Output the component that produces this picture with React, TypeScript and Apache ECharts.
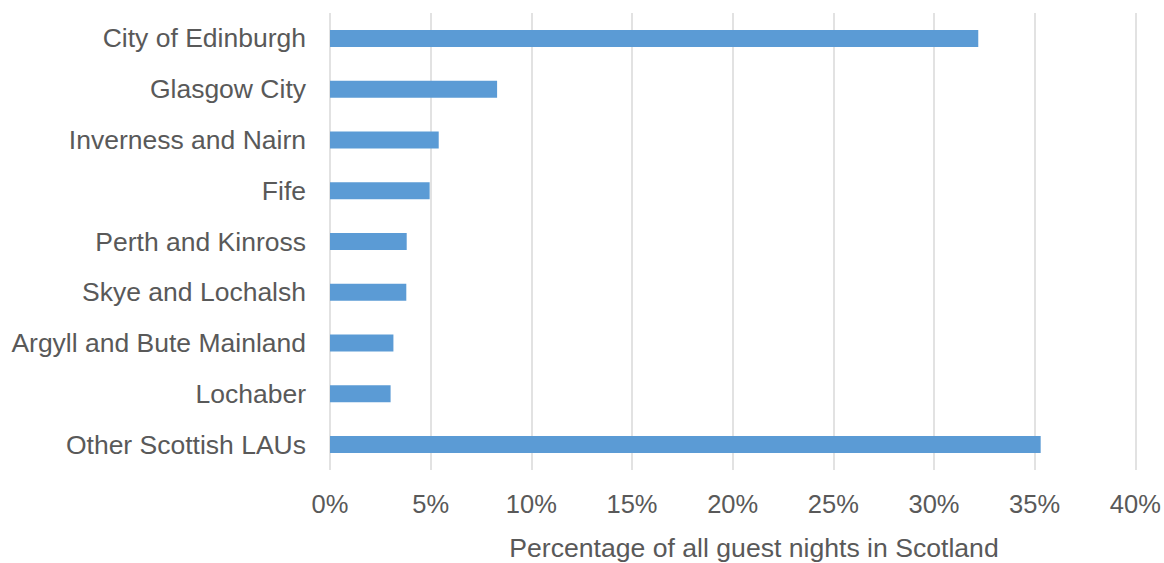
import React, { useEffect, useRef } from "react";
import * as echarts from "echarts";

const categories = [
  "City of Edinburgh",
  "Glasgow City",
  "Inverness and Nairn",
  "Fife",
  "Perth and Kinross",
  "Skye and Lochalsh",
  "Argyll and Bute Mainland",
  "Lochaber",
  "Other Scottish LAUs",
];
const values = [32.2, 8.3, 5.4, 4.95, 3.81, 3.79, 3.15, 3.01, 35.3];
const axisTitle = "Percentage of all guest nights in Scotland";

export default function App() {
  const ref = useRef<HTMLDivElement>(null);
  useEffect(() => {
    if (!ref.current) return;
    const chart = echarts.init(ref.current, null, { renderer: "svg" });
    const font = "'Liberation Sans', Arial, sans-serif";
    chart.setOption({
      animation: false,
      grid: { left: 330, right: 28.7, top: 13, bottom: 93, containLabel: false },
      xAxis: {
        type: "value",
        min: 0,
        max: 40,
        interval: 5,
        axisLine: { show: false },
        axisTick: { show: false },
        splitLine: { show: true, lineStyle: { color: "#d9d9d9", width: 1.5 } },
        axisLabel: {
          formatter: (v: number) => v + "%",
          color: "#595959",
          fontSize: 25.5,
          fontFamily: font,
          margin: 21,
        },
      },
      yAxis: {
        type: "category",
        data: categories,
        inverse: true,
        axisLine: { show: false },
        axisTick: { show: false },
        axisLabel: {
          color: "#595959",
          fontSize: 26.5,
          fontFamily: font,
          margin: 24,
        },
      },
      series: [
        {
          type: "bar",
          data: values,
          barWidth: 17,
          itemStyle: { color: "#5b9bd5" },
        },
      ],
      graphic: [
        {
          type: "text",
          x: 754,
          y: 548,
          style: {
            text: axisTitle,
            fill: "#595959",
            font: `26.6px ${font}`,
            align: "center",
            verticalAlign: "middle",
          },
        },
      ],
    });
    return () => chart.dispose();
  }, []);
  return <div ref={ref} style={{ width: 1164, height: 563, position: "absolute", left: 0, top: 0 }} />;
}
